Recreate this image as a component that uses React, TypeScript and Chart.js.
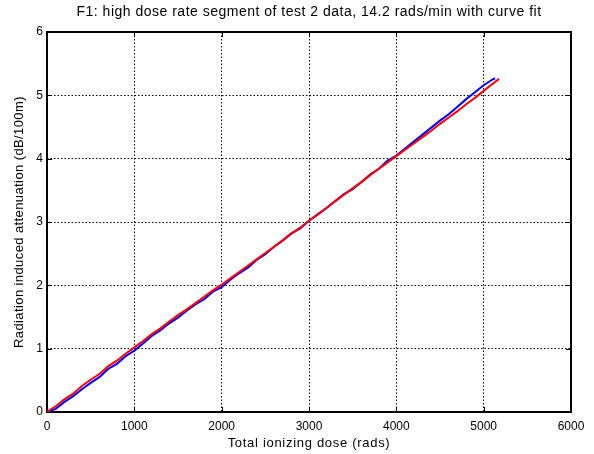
import React, { useEffect, useRef } from "react";
import { Chart, registerables } from "chart.js";

Chart.register(...registerables);

const TITLE = "F1: high dose rate segment of test 2 data, 14.2 rads/min with curve fit";
const X_TITLE = "Total ionizing dose (rads)";
const Y_TITLE = "Radiation induced attenuation (dB/100m)";

const X_TICKS = [0, 1000, 2000, 3000, 4000, 5000, 6000];
const Y_TICKS = [0, 1, 2, 3, 4, 5, 6];

const measuredDose = [
  0, 100, 200, 300, 400, 500, 600, 700, 800, 900, 1000, 1100, 1200, 1300, 1400, 1500, 1600, 1700,
  1800, 1900, 2000, 2100, 2200, 2300, 2400, 2500, 2600, 2700, 2800, 2900, 3000, 3100, 3200, 3300,
  3400, 3500, 3600, 3700, 3800, 3900, 4000, 4100, 4200, 4300, 4400, 4500, 4600, 4700, 4800, 4900,
  5000, 5100, 5130,
];
const measuredAtten = [
  0.0, 0.05, 0.16, 0.25, 0.36, 0.46, 0.55, 0.68, 0.76, 0.88, 0.97, 1.08, 1.2, 1.29, 1.4, 1.49, 1.6,
  1.7, 1.78, 1.9, 1.97, 2.09, 2.19, 2.28, 2.4, 2.49, 2.61, 2.71, 2.82, 2.9, 3.02, 3.12, 3.22, 3.33,
  3.44, 3.52, 3.63, 3.75, 3.84, 3.97, 4.05, 4.16, 4.27, 4.38, 4.49, 4.6, 4.7, 4.82, 4.94, 5.05,
  5.16, 5.25, 5.27,
];

const fitDose = [
  0, 100, 200, 300, 400, 500, 600, 700, 800, 900, 1000, 1100, 1200, 1300, 1400, 1500, 1600, 1700,
  1800, 1900, 2000, 2100, 2200, 2300, 2400, 2500, 2600, 2700, 2800, 2900, 3000, 3100, 3200, 3300,
  3400, 3500, 3600, 3700, 3800, 3900, 4000, 4100, 4200, 4300, 4400, 4500, 4600, 4700, 4800, 4900,
  5000, 5100, 5176,
];
const fitAtten = [
  0.0, 0.09, 0.2, 0.29, 0.41, 0.51, 0.6, 0.72, 0.81, 0.92, 1.02, 1.12, 1.23, 1.32, 1.43, 1.53,
  1.62, 1.72, 1.82, 1.92, 2.01, 2.11, 2.21, 2.31, 2.41, 2.51, 2.61, 2.71, 2.82, 2.91, 3.02, 3.12,
  3.22, 3.33, 3.43, 3.53, 3.63, 3.74, 3.84, 3.94, 4.04, 4.14, 4.24, 4.34, 4.44, 4.55, 4.65, 4.75,
  4.86, 4.96, 5.07, 5.18, 5.26,
];

const FONT = "Arial, 'Liberation Sans', Helvetica, sans-serif";

const framePlugin = {
  id: "frame",
  beforeDatasetsDraw(chart: any) {
    const { ctx, chartArea } = chart;
    const { left, right, top, bottom } = chartArea;
    const xs = chart.scales.x;
    const ys = chart.scales.y;
    ctx.save();
    ctx.strokeStyle = "#000";
    ctx.lineWidth = 1;
    const tl = 5;
    ctx.beginPath();
    X_TICKS.forEach((v) => {
      const px = Math.round(xs.getPixelForValue(v)) + 0.5;
      ctx.moveTo(px, bottom);
      ctx.lineTo(px, bottom - tl);
      ctx.moveTo(px, top);
      ctx.lineTo(px, top + tl);
    });
    Y_TICKS.forEach((v) => {
      const py = Math.round(ys.getPixelForValue(v)) + 0.5;
      ctx.moveTo(left, py);
      ctx.lineTo(left + tl, py);
      ctx.moveTo(right, py);
      ctx.lineTo(right - tl, py);
    });
    ctx.stroke();
    ctx.lineWidth = 2;
    ctx.strokeRect(left, top, right - left, bottom - top);
    ctx.restore();
  },
  afterDraw(chart: any) {
    const { ctx, chartArea } = chart;
    const cx = (chartArea.left + chartArea.right) / 2;
    ctx.save();
    ctx.fillStyle = "#000";
    ctx.textAlign = "center";
    ctx.textBaseline = "middle";
    ctx.font = `14px ${FONT}`;
    (ctx as any).letterSpacing = "0.5px";
    ctx.fillText(TITLE, cx, 12);
    ctx.font = `13px ${FONT}`;
    (ctx as any).letterSpacing = "0.7px";
    ctx.fillText(X_TITLE, cx, 443);
    ctx.translate(19, (chartArea.top + chartArea.bottom) / 2);
    ctx.rotate(-Math.PI / 2);
    (ctx as any).letterSpacing = "0.4px";
    ctx.fillText(Y_TITLE, 0, 0);
    ctx.restore();
  },
};

export default function App() {
  const ref = useRef<HTMLCanvasElement | null>(null);
  useEffect(() => {
    document.body.style.margin = "0";
    const canvas = ref.current;
    if (!canvas) return;
    const chart = new Chart(canvas, {
      type: "line",
      data: {
        datasets: [
          {
            label: "fit",
            data: fitDose.map((x, i) => ({ x, y: fitAtten[i] })),
            borderColor: "#ff0000",
            borderWidth: 2,
            pointRadius: 0,
            tension: 0,
            fill: false,
          },
          {
            label: "measured",
            data: measuredDose.map((x, i) => ({ x, y: measuredAtten[i] })),
            borderColor: "#0000ff",
            borderWidth: 2,
            pointRadius: 0,
            tension: 0,
            fill: false,
          },
        ],
      },
      options: {
        responsive: false,
        animation: false,
        devicePixelRatio: 1,
        layout: { padding: { top: 32, right: 23, left: 0, bottom: 0 } },
        plugins: {
          legend: { display: false },
          title: { display: false },
          tooltip: { enabled: false },
        },
        scales: {
          x: {
            type: "linear",
            min: 0,
            max: 6000,
            afterBuildTicks: (s: any) => {
              s.ticks = X_TICKS.map((v) => ({ value: v }));
            },
            afterFit: (s: any) => {
              s.height = 42;
            },
            ticks: {
              color: "#000",
              font: { family: FONT, size: 12 },
              padding: 7,
              maxRotation: 0,
              autoSkip: false,
              callback: (v: any) => String(v),
            },
            grid: {
              color: "#000",
              lineWidth: 1,
              drawTicks: false,
            },
            border: { display: false, dash: [1.5, 2] },
          },
          y: {
            type: "linear",
            min: 0,
            max: 6,
            afterBuildTicks: (s: any) => {
              s.ticks = Y_TICKS.map((v) => ({ value: v }));
            },
            afterFit: (s: any) => {
              s.width = 47;
            },
            ticks: {
              color: "#000",
              font: { family: FONT, size: 12 },
              padding: 4,
              autoSkip: false,
              callback: (v: any) => String(v),
            },
            grid: {
              color: "#000",
              lineWidth: 1,
              drawTicks: false,
            },
            border: { display: false, dash: [1.5, 2] },
          },
        },
      },
      plugins: [framePlugin],
    });
    return () => chart.destroy();
  }, []);
  return <canvas ref={ref} width={594} height={454} style={{ display: "block" }} />;
}
